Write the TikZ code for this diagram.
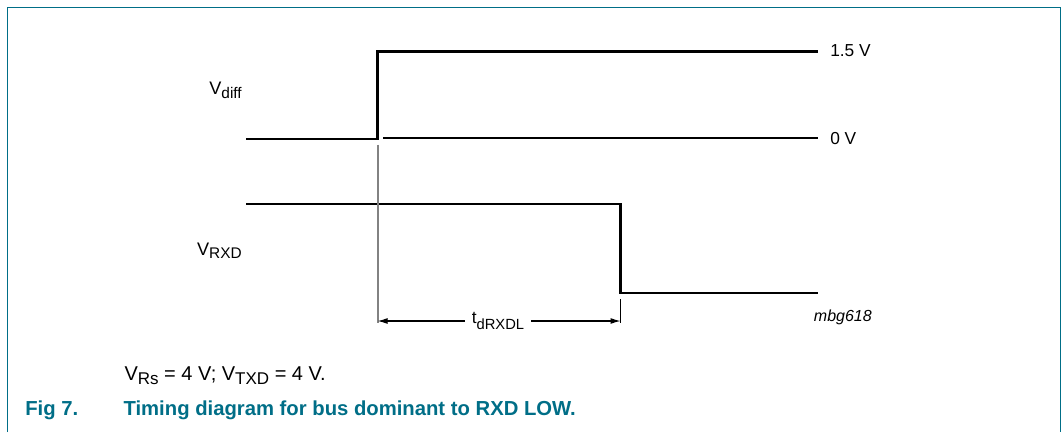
\documentclass[tikz,border=0pt]{standalone}
\usepackage{fontspec}
\usepackage{graphicx}
\setmainfont{Liberation Sans}
\usetikzlibrary{arrows.meta}
\definecolor{nxp}{RGB}{0,110,135}
\definecolor{guide}{RGB}{130,130,130}
\newcommand{\lowsub}[1]{\raisebox{-0.2em}{\scalebox{0.85}{#1}}}
\tikzset{
  frame/.style={draw=nxp, line width=1.4pt},
  signal/.style={line width=2.2pt, line join=miter},
  refline/.style={line width=1pt},
  guideline/.style={draw=guide, line width=1.2pt},
  tick/.style={line width=0.8pt},
  dim/.style={line width=0.8pt, -{Latex[length=7.5pt,width=4.5pt]}},
  lbl/.style={inner sep=0pt, font=\fontsize{13}{15}\selectfont},
  vlbl/.style={inner sep=0pt, font=\fontsize{13.6}{16}\selectfont},
  note/.style={inner sep=0pt, font=\fontsize{15}{18}\selectfont},
  capt/.style={inner sep=0pt, text=nxp, font=\fontsize{15.2}{18}\selectfont\bfseries},
}
\begin{document}
\begin{tikzpicture}[x=0.75pt, y=-0.75pt]
\useasboundingbox (0,0) rectangle (1063,432);
% frame (open at bottom)
\draw[frame] (7.5,432) -- (7.5,7.5) -- (1060.5,7.5) -- (1060.5,432);
% V diff
\draw[signal] (246,139) -- (377.7,139) -- (377.7,51.5) -- (818,51.5);
\draw[refline] (383,138) -- (818,138);
% V RXD
\draw[signal] (246,204) -- (620.5,204) -- (620.5,293) -- (818,293);
% guides
\coordinate (gl) at (377.7,321);
\coordinate (gr) at (620.5,321);
\draw[guideline] (377.7,144.5) -- (377.7,323);
\draw[tick] (620.5,299) -- (620.5,323);
% dimension
\node[lbl, fill=white, inner xsep=5pt] (td) at (498,321) {\raisebox{0.15em}{t}\lowsub{dRXDL}};
\draw[dim] (td.west) -- (gl);
\draw[dim] (td.east) -- (gr);
% labels
\node[lbl, anchor=base west] (l15) at (830,56.5) {1.5 V};
\node[lbl, anchor=base west] (l0) at (830,144.5) {0 V};
\node[vlbl, anchor=base east] (vdiff) at (242,94.8) {V\lowsub{diff}};
\node[vlbl, anchor=base east] (vrxd) at (242,255) {V\lowsub{RXD}};
\node[inner sep=0pt, anchor=base east, font=\fontsize{12}{14}\selectfont\itshape] (code) at (872,321.7) {mbg618};
\node[note, anchor=base west] (cond) at (124.3,380.5) {V\lowsub{Rs} = 4 V; V\lowsub{TXD} = 4 V.};
\node[capt, anchor=base west] (fig) at (25,415) {Fig 7.};
\node[capt, anchor=base west] (title) at (123.3,415) {Timing diagram for bus dominant to RXD LOW.};
\end{tikzpicture}
\end{document}
